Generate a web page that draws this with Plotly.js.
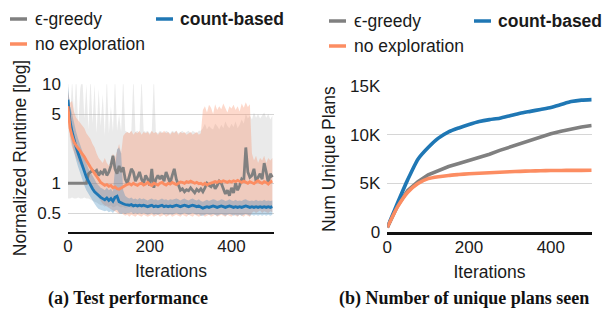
<!DOCTYPE html>
<html>
<head>
<meta charset="utf-8">
<script src="https://cdn.plot.ly/plotly-3.0.1.min.js"></script>
<style>html,body{margin:0;padding:0;background:#fff;}#chart{width:603px;height:318px;}</style>
</head>
<body>
<div id="chart"></div>
<script>
// ---------- DATA ----------
const seriesNames = ['ϵ-greedy', 'count-based', 'no exploration'];
const xTickVals = [0, 200, 400];
const xTickText = ['0', '200', '400'];
const runtimeTickVals = [0.5, 1, 5, 10];
const runtimeTickText = ['0.5', '1', '5', '10'];
const plansTickVals = [0, 5000, 10000, 15000];
const plansTickText = ['0', '5K', '10K', '15K'];

// (a) iterations sampled every 5 steps
const iterA = [0,5,10,15,20,25,30,35,40,45,50,55,60,65,70,75,80,85,90,95,100,105,110,115,120,125,130,135,140,145,150,155,160,165,170,175,180,185,190,195,200,205,210,215,220,225,230,235,240,245,250,255,260,265,270,275,280,285,290,295,300,305,310,315,320,325,330,335,340,345,350,355,360,365,370,375,380,385,390,395,400,405,410,415,420,425,430,435,440,445,450,455,460,465,470,475,480,485,490,495,500];

const countMean = [7.0,4.2,3.3,2.7,2.3,2.0,1.75,1.5,1.3,1.15,
 1.05,0.95,0.88,0.82,0.78,0.74,0.72,0.70,0.68,0.71,
 0.67,0.70,0.66,0.72,0.74,0.65,0.63,0.62,0.61,0.60,
 0.60,0.61,0.59,0.60,0.59,0.60,0.59,0.60,0.59,0.58,
 0.59,0.60,0.58,0.59,0.58,0.59,0.60,0.58,0.59,0.58,
 0.59,0.58,0.59,0.60,0.59,0.58,0.59,0.60,0.59,0.58,
 0.59,0.60,0.59,0.58,0.59,0.57,0.56,0.57,0.58,0.57,
 0.58,0.59,0.58,0.57,0.58,0.59,0.58,0.57,0.58,0.59,
 0.58,0.57,0.58,0.57,0.58,0.57,0.58,0.59,0.58,0.57,
 0.58,0.57,0.58,0.57,0.58,0.57,0.58,0.57,0.58,0.57,
 0.58];
const countUpper = [9.5,6.0,5.0,4.0,3.3,2.8,2.4,2.1,1.8,1.6,
 1.4,1.3,1.2,1.1,1.0,0.95,0.9,0.88,0.85,0.9,
 0.85,0.88,0.82,1.4,2.2,2.3,2.0,0.85,0.75,0.72,
 0.7,0.72,0.69,0.7,0.68,0.71,0.69,0.7,0.68,0.67,
 0.69,0.7,0.68,0.69,0.67,0.69,0.7,0.68,0.69,0.67,
 0.69,0.68,0.69,0.7,0.69,0.67,0.69,0.7,0.68,0.67,
 0.69,0.7,0.68,0.67,0.69,0.66,0.65,0.66,0.68,0.66,
 0.67,0.69,0.68,0.66,0.67,0.69,0.68,0.66,0.67,0.69,
 0.67,0.66,0.68,0.66,0.67,0.66,0.68,0.69,0.67,0.66,
 0.67,0.66,0.68,0.66,0.67,0.66,0.68,0.66,0.67,0.66,
 0.67];
const countLower = [5.5,3.2,2.5,2.0,1.7,1.45,1.25,1.1,0.95,0.85,
 0.78,0.72,0.66,0.62,0.58,0.55,0.54,0.53,0.52,0.53,
 0.51,0.52,0.5,0.53,0.54,0.5,0.49,0.5,0.49,0.5,
 0.5,0.51,0.49,0.5,0.49,0.5,0.49,0.5,0.49,0.48,
 0.49,0.5,0.48,0.49,0.48,0.49,0.5,0.48,0.49,0.48,
 0.49,0.48,0.49,0.5,0.49,0.48,0.49,0.5,0.49,0.48,
 0.49,0.5,0.49,0.48,0.49,0.47,0.47,0.48,0.49,0.48,
 0.48,0.49,0.48,0.47,0.48,0.49,0.48,0.47,0.48,0.49,
 0.48,0.47,0.48,0.47,0.48,0.47,0.48,0.49,0.48,0.47,
 0.48,0.47,0.48,0.47,0.48,0.47,0.48,0.47,0.48,0.47,
 0.48];

const noneMean = [6.0,3.6,3.0,2.6,2.4,2.25,2.1,2.0,1.85,1.7,
 1.55,1.45,1.35,1.25,1.15,1.1,1.02,0.98,0.95,0.97,
 0.93,0.95,0.9,0.92,0.88,0.87,0.9,0.92,0.95,0.97,
 0.99,0.96,1.0,0.97,0.95,0.99,1.0,0.96,0.98,1.02,
 0.97,0.95,1.0,0.98,0.96,1.0,1.02,0.98,0.96,1.0,
 0.98,1.02,1.0,0.97,1.0,1.03,1.02,1.0,1.04,1.02,
 1.05,1.03,1.0,1.02,0.99,1.0,0.97,1.0,0.96,0.99,
 1.0,1.02,1.04,1.02,1.05,1.03,1.06,1.04,1.02,1.05,
 1.03,1.06,1.04,1.07,1.05,1.02,1.05,1.03,1.0,1.04,
 1.02,0.99,1.03,1.06,1.02,1.0,1.04,1.02,0.98,1.03,
 1.05];
const noneUpper = [8.5,6.5,6.8,5.2,4.6,4.3,4.0,3.8,3.6,3.2,
 3.0,2.8,2.5,2.3,2.0,1.8,1.7,1.6,1.8,1.6,
 1.5,1.7,2.0,1.8,2.2,2.5,2.0,3.0,3.2,3.3,
 3.2,3.4,3.1,3.3,3.2,3.4,3.1,3.3,3.2,3.3,
 3.1,3.4,3.2,3.3,3.1,3.3,3.2,3.4,3.2,3.3,
 3.1,3.3,3.2,3.4,3.1,3.3,3.2,3.3,3.1,3.2,
 3.3,3.1,3.2,3.3,3.1,3.2,5.5,6.0,5.2,6.2,
 5.8,5.0,6.3,5.5,6.0,5.6,6.4,5.8,5.2,6.0,
 5.7,6.2,5.5,6.0,5.3,6.4,5.8,6.6,5.9,6.3,
 2.0,1.7,1.9,1.6,1.8,1.7,1.9,1.6,1.8,1.7,
 1.8];
const noneLower = [4.5,2.8,2.3,2.0,1.8,1.65,1.5,1.4,1.3,1.2,
 1.1,1.0,0.92,0.85,0.78,0.72,0.66,0.62,0.6,0.58,
 0.56,0.55,0.53,0.52,0.5,0.49,0.5,0.48,0.47,0.48,
 0.46,0.48,0.47,0.46,0.48,0.47,0.46,0.48,0.47,0.46,
 0.47,0.48,0.46,0.47,0.48,0.46,0.47,0.48,0.46,0.47,
 0.48,0.46,0.47,0.48,0.47,0.46,0.48,0.47,0.46,0.48,
 0.47,0.46,0.48,0.47,0.46,0.47,0.48,0.46,0.47,0.48,
 0.46,0.47,0.48,0.46,0.47,0.48,0.47,0.46,0.48,0.47,
 0.46,0.48,0.47,0.46,0.48,0.47,0.46,0.48,0.47,0.46,
 0.5,0.52,0.5,0.51,0.53,0.5,0.52,0.51,0.5,0.52,
 0.51];

const greedyMean = [1.0,1.0,1.0,1.0,1.0,1.0,1.0,1.0,1.0,1.0,
 1.25,1.3,1.35,1.3,1.35,1.2,1.3,1.25,1.4,1.2,
 1.3,1.5,1.9,1.4,1.25,1.5,1.3,1.45,1.1,1.0,
 1.2,1.4,1.3,1.05,1.15,1.3,1.1,1.0,1.2,1.1,
 0.95,1.4,0.9,1.1,1.2,1.1,1.2,1.05,1.3,1.15,
 1.0,1.2,1.4,1.1,0.95,0.85,0.88,0.82,0.86,0.84,
 0.9,0.85,0.8,0.87,0.83,0.88,0.82,0.9,1.0,0.95,
 0.92,1.0,0.88,0.95,1.05,1.0,0.9,0.78,0.85,0.75,
 0.9,0.8,1.0,0.85,0.95,1.1,1.05,2.3,1.3,1.15,
 1.2,1.4,1.05,1.15,1.25,1.1,1.6,1.3,1.0,1.25,
 1.15];
const greedyUpper = [12,4.5,11,5,12,3.8,9,12,4.5,10,
 3.5,12,4,10,3.2,9,3.8,8,3.0,12,
 3.2,6,3.3,12,3.4,5,3.3,12,3.4,3.3,
 3.2,3.4,12,3.3,3.4,3.2,12,3.4,3.3,3.4,
 3.2,3.4,12,3.3,3.2,3.4,3.3,3.2,3.4,3.3,
 3.2,3.4,3.3,3.4,3.2,3.3,3.4,3.2,3.3,3.4,
 3.2,3.4,3.3,3.2,3.4,3.4,3.6,4.0,3.5,3.8,
 3.6,3.5,4.0,3.8,3.5,3.9,3.6,4.2,3.8,3.6,
 4.0,3.7,4.2,3.6,3.9,4.4,4.0,5.0,4.5,4.8,
 4.4,5.2,4.6,5.0,4.5,4.8,5.2,4.6,5.0,4.4,
 4.8];
const greedyLower = [0.7,0.7,0.72,0.7,0.7,0.72,0.7,0.7,0.72,0.7,
 0.7,0.68,0.66,0.65,0.64,0.62,0.6,0.6,0.58,0.6,
 0.58,0.6,0.57,0.58,0.6,0.58,0.57,0.58,0.56,0.57,
 0.58,0.56,0.57,0.58,0.56,0.57,0.58,0.56,0.57,0.58,
 0.56,0.57,0.58,0.56,0.57,0.58,0.56,0.57,0.58,0.56,
 0.57,0.58,0.56,0.57,0.58,0.56,0.57,0.58,0.56,0.57,
 0.58,0.56,0.57,0.58,0.56,0.57,0.58,0.56,0.57,0.58,
 0.56,0.57,0.58,0.56,0.57,0.58,0.56,0.57,0.58,0.56,
 0.57,0.58,0.56,0.57,0.58,0.56,0.57,0.58,0.56,0.57,
 0.58,0.56,0.57,0.58,0.56,0.57,0.58,0.56,0.57,0.58,
 0.57];

// (b) iterations sampled every 25 steps
const iterB = [0,25,50,75,100,125,150,175,200,225,250,275,300,325,350,375,400,425,450,475,500];
const plansCount  = [500,3000,5400,7500,8700,9650,10300,10700,11050,11350,11550,11700,11950,12200,12400,12600,12800,13100,13400,13550,13600];
const plansGreedy = [500,2700,4300,5200,5900,6350,6750,7050,7350,7650,8000,8400,8750,9100,9400,9800,10100,10350,10600,10800,10950];
const plansNone   = [500,2600,4100,5000,5500,5700,5830,5920,6000,6060,6110,6160,6210,6250,6290,6310,6330,6340,6350,6350,6360];

// ---------- STYLE ----------
const C = {gray:'#808080', blue:'#1f77b4', orange:'#fc8d62'};
const BAND = {gray:'rgba(150,150,150,0.2)', blue:'rgba(31,119,180,0.28)', orange:'rgba(248,140,100,0.33)'};
const W = 603, H = 318;
const px = x => x / W, py = y => 1 - y / H;

function band(x, lo, hi, color, xa, ya) {
  return [
    {x:x, y:lo, xaxis:xa, yaxis:ya, mode:'lines', line:{width:0, color:color}, hoverinfo:'skip', showlegend:false},
    {x:x, y:hi, xaxis:xa, yaxis:ya, mode:'lines', line:{width:0, color:color}, fill:'tonexty', fillcolor:color, hoverinfo:'skip', showlegend:false}
  ];
}

const traces = [].concat(
  band(iterA, greedyLower, greedyUpper, BAND.gray, 'x', 'y'),
  band(iterA, noneLower, noneUpper, BAND.orange, 'x', 'y'),
  band(iterA, countLower, countUpper, BAND.blue, 'x', 'y'),
  [
    {x:iterA, y:greedyMean, xaxis:'x', yaxis:'y', mode:'lines', name:seriesNames[0], line:{color:C.gray, width:2.8}},
    {x:iterA, y:countMean, xaxis:'x', yaxis:'y', mode:'lines', name:seriesNames[1], line:{color:C.blue, width:2.8}},
    {x:iterA, y:noneMean, xaxis:'x', yaxis:'y', mode:'lines', name:seriesNames[2], line:{color:C.orange, width:2.8}},
    {x:iterB, y:plansGreedy, xaxis:'x2', yaxis:'y2', mode:'lines', name:seriesNames[0], line:{color:C.gray, width:3.6}},
    {x:iterB, y:plansCount, xaxis:'x2', yaxis:'y2', mode:'lines', name:seriesNames[1], line:{color:C.blue, width:3.6, shape:'spline', smoothing:0.6}},
    {x:iterB, y:plansNone, xaxis:'x2', yaxis:'y2', mode:'lines', name:seriesNames[2], line:{color:C.orange, width:3.6, shape:'spline', smoothing:0.6}}
  ]
);

const sansFont = {family:'"Liberation Sans", Arial, sans-serif', size:17, color:'#1a1a1a'};
const titleFont = Object.assign({}, sansFont, {size:17.5});
const axisCommon = {showline:false, zeroline:false, ticks:'', tickfont:sansFont, fixedrange:true};

function legendItems(x0, y1, y2, bx) {
  const shapes = [
    {type:'line', xref:'paper', yref:'paper', x0:px(x0), x1:px(x0+17), y0:py(y1), y1:py(y1), line:{color:C.gray, width:3.5}},
    {type:'line', xref:'paper', yref:'paper', x0:px(bx), x1:px(bx+17), y0:py(y1), y1:py(y1), line:{color:C.blue, width:3.5}},
    {type:'line', xref:'paper', yref:'paper', x0:px(x0), x1:px(x0+17), y0:py(y2), y1:py(y2), line:{color:C.orange, width:3.5}}
  ];
  const f = Object.assign({}, sansFont, {size:17.5});
  const anns = [
    {xref:'paper', yref:'paper', x:px(x0+23), y:py(y1), xanchor:'left', yanchor:'middle', showarrow:false, text:seriesNames[0], font:f},
    {xref:'paper', yref:'paper', x:px(bx+22), y:py(y1), xanchor:'left', yanchor:'middle', showarrow:false, text:'<b>'+seriesNames[1]+'</b>', font:f},
    {xref:'paper', yref:'paper', x:px(x0+23), y:py(y2), xanchor:'left', yanchor:'middle', showarrow:false, text:seriesNames[2], font:f}
  ];
  return {shapes, anns};
}
const legA = legendItems(10, 19, 44, 156);
const legB = legendItems(329, 21, 46, 474);

const capFont = {family:'"Liberation Serif", "Times New Roman", serif', size:18, color:'#111'};

const layout = {
  width:W, height:H,
  margin:{l:0, r:0, t:0, b:0},
  paper_bgcolor:'#ffffff', plot_bgcolor:'#ffffff',
  showlegend:false,
  font:sansFont,
  xaxis: Object.assign({}, axisCommon, {
    domain:[px(68), px(274)], range:[0, 504],
    tickvals:xTickVals, ticktext:xTickText, showgrid:false,
    showline:true, linecolor:'#111', linewidth:2.2, ticklabelstandoff:-2,
    title:{text:'Iterations', font:titleFont, standoff:10}
  }),
  yaxis: Object.assign({}, axisCommon, {
    domain:[py(231.7), py(84.3)], type:'log', range:[Math.log10(0.324), 1],
    tickvals:runtimeTickVals, ticktext:runtimeTickText, ticklabelstandoff:6,
    showgrid:true, gridcolor:'#d6d6d6', gridwidth:1,
    title:{text:'Normalized Runtime [log]', font:titleFont, standoff:6}
  }),
  xaxis2: Object.assign({}, axisCommon, {
    domain:[px(387.3), px(591.7)], range:[0, 500], anchor:'y2',
    tickvals:xTickVals, ticktext:xTickText, showgrid:false,
    showline:true, linecolor:'#111', linewidth:2.2, ticklabelstandoff:-2,
    title:{text:'Iterations', font:titleFont, standoff:10}
  }),
  yaxis2: Object.assign({}, axisCommon, {
    domain:[py(232.3), py(86)], range:[0, 15000], anchor:'x2',
    tickvals:plansTickVals, ticktext:plansTickText, ticklabelstandoff:6,
    showgrid:true, gridcolor:'#d6d6d6', gridwidth:1,
    title:{text:'Num Unique Plans', font:titleFont, standoff:9}
  }),
  shapes: legA.shapes.concat(legB.shapes),
  annotations: legA.anns.concat(legB.anns, [
    {xref:'paper', yref:'paper', x:px(128), y:py(298), xanchor:'center', yanchor:'middle', showarrow:false, text:'<b>(a) Test performance</b>', font:capFont},
    {xref:'paper', yref:'paper', x:px(464), y:py(298), xanchor:'center', yanchor:'middle', showarrow:false, text:'<b>(b) Number of unique plans seen</b>', font:capFont}
  ])
};

Plotly.newPlot('chart', traces, layout, {displayModeBar:false, staticPlot:true});
</script>
</body>
</html>
